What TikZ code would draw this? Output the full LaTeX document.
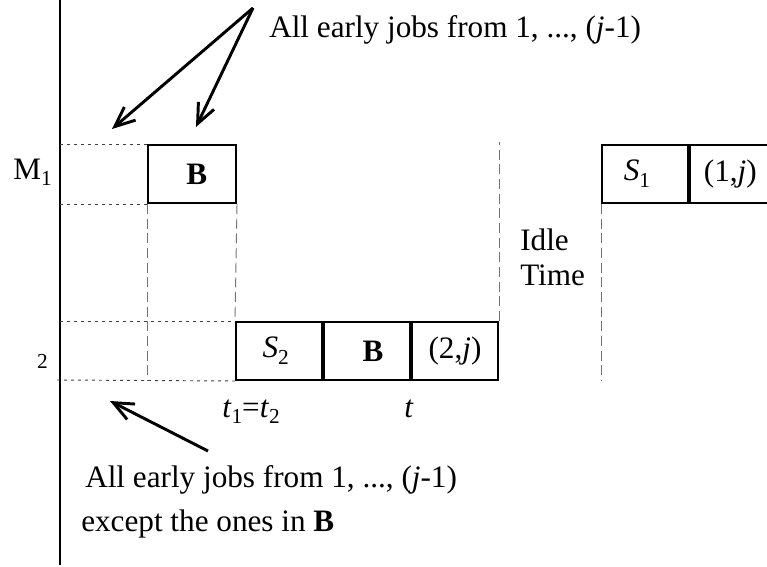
\documentclass[tikz,border=0pt]{standalone}
\usepackage{fontspec}
\setmainfont{Liberation Serif}
\usetikzlibrary{arrows.meta}
\newcommand\mysub[1]{\raisebox{-0.22em}{\fontsize{16}{16}\selectfont #1}}
\tikzset{
  mainfont/.style={font=\fontsize{23.4}{27}\selectfont},
  jobbox/.style={draw, line width=1.5pt, minimum width=64.5pt, minimum height=43.5pt, inner sep=0pt, mainfont},
  lbl/.style={inner sep=0pt, mainfont},
  hdot/.style={black!75, line width=0.7pt, dash pattern=on 2.25pt off 3pt},
  vdash/.style={black!55, line width=0.7pt, dash pattern=on 7.5pt off 3.5pt},
  arr/.style={line width=2.2pt, -{Straight Barb[length=15pt,width=13pt]}},
  axisline/.style={line width=1.6pt}
}
\begin{document}
\begin{tikzpicture}[x=0.75pt,y=-0.75pt]
\useasboundingbox (0,0) rectangle (767,567);
% axis
\coordinate (axtop) at (60,0);
\coordinate (axbot) at (60,565);
\draw[axisline] (axtop) -- (axbot);
% machine 1 boxes
\node[jobbox, minimum width=66pt] (b1) at (192,174) {\hspace*{7pt}\textbf{B}};
\node[jobbox] (s1) at (645,174) {\textit{S}\mysub{1}\hspace*{12pt}};
\node[jobbox] (j1) at (733,174) {(1,\textit{j})\hspace*{4pt}};
% machine 2 boxes
\node[jobbox] (s2) at (279,351) {\textit{S}\mysub{2}\hspace*{5pt}};
\node[jobbox] (b2) at (367,351) {\hspace*{9pt}\textbf{B}};
\node[jobbox] (j2) at (455,351) {(2,\textit{j})};
% dotted horizontals
\draw[hdot] (axtop |- b1.north west) -- (b1.north west);
\draw[hdot] (axtop |- b1.south west) -- (b1.south west);
\draw[hdot] (axtop |- s2.north west) -- (s2.north west);
\coordinate (leftbot) at (57,380);
\draw[hdot] (leftbot) -- (s2.south west);
% dashed verticals
\draw[vdash] (b1.south west) -- (b1.south west |- s2.south west);
\draw[vdash] (b1.south east) -- (s2.north west);
\draw[vdash] (j2.north east) -- ([yshift=1.5pt]j2.north east |- b1.north);
\draw[vdash] (s1.south west) -- (s1.south west |- s2.south west);
% labels
\node[lbl, anchor=base west] (m1) at (13,179) {M\mysub{1}};
\node[inner sep=0pt, font=\fontsize{16}{16}\selectfont] (m2) at (42.5,361) {2};
\node[lbl, anchor=base west] (idle) at (520,250) {Idle};
\node[lbl, anchor=base west] (time) at (520,285) {Time};
\node[lbl, anchor=base west] (t12) at (222,417) {\textit{t}\mysub{1}=\textit{t}\mysub{2}};
\node[lbl, anchor=base] (tt) at (409,417) {\textit{t}};
\node[lbl, anchor=base west] (toptext) at (269,38) {All early jobs from 1, ..., (\textit{j}-1)};
\node[lbl, anchor=base west] (bot1) at (85,487) {All early jobs from 1, ..., (\textit{j}-1)};
\node[lbl, anchor=base west] (bot2) at (81,531) {except the ones in \textbf{B}};
% arrows
\coordinate (src) at (253,8);
\coordinate (tipA) at (112,129);
\coordinate (tipB) at (196,127);
\coordinate (src2) at (208,451);
\coordinate (tipC) at (110,401);
\draw[arr] (src) -- (tipA);
\draw[arr] (src) -- (tipB);
\draw[arr] (src2) -- (tipC);
\end{tikzpicture}
\end{document}
